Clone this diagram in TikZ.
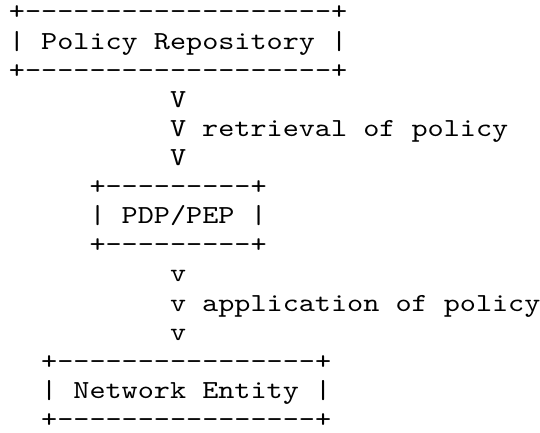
\documentclass[tikz,border=0pt]{standalone}
\usepackage{fontspec}
\newfontfamily\asciifont{lmmono10-regular.otf}[FakeStretch=1.18,Ligatures=TeXOff]
\tikzset{
  asciiline/.style={anchor=base west, inner sep=0pt, outer sep=0pt,
    font=\asciifont\fontsize{26}{29}\selectfont}
}
\begin{document}
\begin{tikzpicture}[x=1pt,y=1pt]
\useasboundingbox (0,0) rectangle (540,432);
% column pitch 16.1, column 0 left edge at 9; baseline of line i at 432-(20+29.1 i)
\node[asciiline] (repoT) at (9,412)      {+-------------------+};
\node[asciiline] (repo)  at (9,382.9)    {| Policy Repository |};
\node[asciiline] (repoB) at (9,353.8)    {+-------------------+};
\node[asciiline] (rA)    at (170,324.7)  {V};
\node[asciiline] (rB)    at (170,295.6)  {V retrieval of policy};
\node[asciiline] (rC)    at (170,266.5)  {V};
\node[asciiline] (pdpT)  at (89.5,237.4) {+---------+};
\node[asciiline] (pdp)   at (89.5,208.3) {| PDP/PEP |};
\node[asciiline] (pdpB)  at (89.5,179.2) {+---------+};
\node[asciiline] (aA)    at (170,150.1)  {v};
\node[asciiline] (aB)    at (170,121)    {v application of policy};
\node[asciiline] (aC)    at (170,91.9)   {v};
\node[asciiline] (netT)  at (41.2,62.8)  {+----------------+};
\node[asciiline] (net)   at (41.2,33.7)  {| Network Entity |};
\node[asciiline] (netB)  at (41.2,4.6)   {+----------------+};
\end{tikzpicture}
\end{document}
